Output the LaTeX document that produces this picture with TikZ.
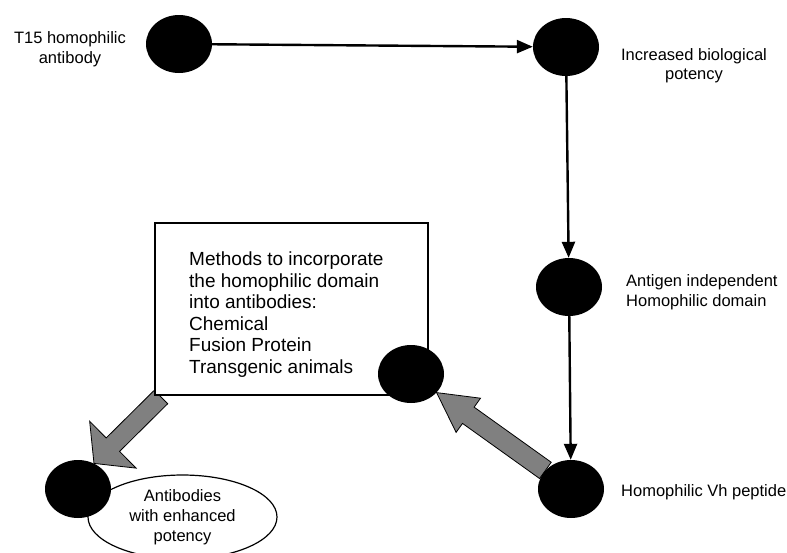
\documentclass[tikz,border=0pt]{standalone}
\usepackage{fontspec}
\setmainfont{Liberation Sans}
\usetikzlibrary{shapes.geometric,arrows.meta,calc,backgrounds}

\tikzset{
  dot/.style={ellipse, fill=black, inner sep=0pt, minimum width=66pt, minimum height=58pt},
  lbl/.style={font=\fontsize{16.5}{20}\selectfont, inner sep=0pt, align=center},
  link/.style={black, line width=2.4pt, -{Triangle[length=16pt,width=13pt]}},
  fat/.style={fill=gray, draw=black, line width=0.8pt, line join=miter}
}

% fat arrow: tail, tip, half shaft, half head, head length
\newcommand{\fatarrow}[5]{%
  \coordinate (fa-b) at ($(#2)!#5!(#1)$);
  \draw[fat] ($(#1)!#3!90:(#2)$) -- ($(fa-b)!#3!90:(#2)$) -- ($(fa-b)!#4!90:(#2)$) -- (#2)
    -- ($(fa-b)!#4!-90:(#2)$) -- ($(fa-b)!#3!-90:(#2)$) -- ($(#1)!#3!-90:(#2)$) -- cycle;
}

\begin{document}
\begin{tikzpicture}[x=1pt, y=-1pt]
  \useasboundingbox (0,0) rectangle (787,552);
  % methods box
  \node[draw, fill=white, line width=2pt, minimum width=273pt, minimum height=172pt, inner sep=0pt] (methods) at (291.5,309) {};
  \node[font=\fontsize{19}{21.5}\selectfont, align=left, anchor=north west, inner sep=0pt] (methodstxt) at (189,252)
    {Methods to incorporate\\the homophilic domain\\into antibodies:\\Chemical\\Fusion Protein\\Transgenic animals};
  % result ellipse
  \node[ellipse, draw, line width=1.2pt, fill=white, minimum width=189pt, minimum height=84pt, lbl] (result) at (182.5,517)
    {Antibodies\\with enhanced\\potency};

  % dots
  \node[dot] (t15) at (179,44) {};
  \node[dot] (potency) at (566,47) {};
  \node[dot] (domain) at (569,287) {};
  \node[dot] (peptide) at (571,489) {};
  \node[dot] (incorp) at (411,374) {};
  \node[dot] (enhanced) at (78,489) {};

  % labels
  \node[lbl] (t15lbl) at (70,49) {T15 homophilic\\antibody};
  \node[lbl, font=\fontsize{16.5}{19}\selectfont] (potlbl) at (694,66) {Increased biological\\potency};
  \node[lbl, align=left, anchor=west] (domlbl) at (626,292) {Antigen independent\\Homophilic domain};
  \node[lbl, anchor=west] (peplbl) at (621,492) {Homophilic Vh peptide};

  % thin arrows
  \draw[link] (t15) -- (potency);
  \draw[link] (potency) -- (domain);
  \draw[link] (domain) -- (peptide);

  % fat arrows
  \begin{scope}[on background layer]
    \coordinate (f1t) at (peptide.144);
    \coordinate (f1h) at (incorp.-36);
    \fatarrow{f1t}{f1h}{10pt}{21pt}{39pt}
    \coordinate (f2t) at ($(methods.south west)+(7,1)$);
    \coordinate (f2h) at (enhanced.58);
    \fatarrow{f2t}{f2h}{9.5pt}{33pt}{26.6pt}
  \end{scope}
\end{tikzpicture}
\end{document}
